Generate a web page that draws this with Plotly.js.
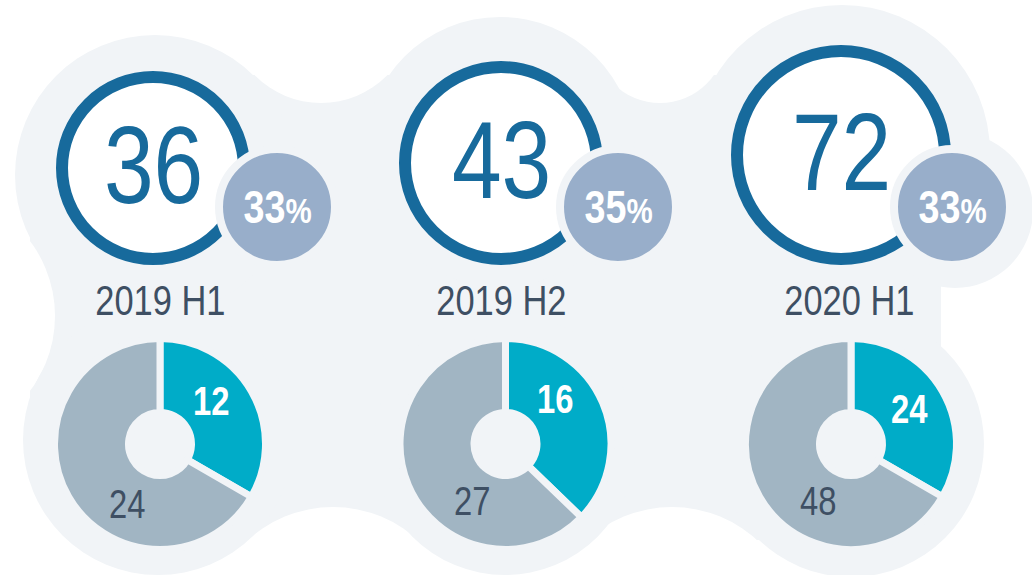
<!DOCTYPE html>
<html><head><meta charset="utf-8">
<script src="https://cdn.plot.ly/plotly-3.0.1.min.js"></script>
<style>html,body{margin:0;padding:0;background:#fff;}#chart{width:1032px;height:575px;}</style>
</head><body><div id="chart"></div>
<script>
// ---- data ----
const periods = ['2019 H1', '2019 H2', '2020 H1'];
const totals  = [36, 43, 72];
const shares  = [33, 35, 33];
const partA   = [12, 16, 24];   // teal slice
const partB   = [24, 27, 48];   // grey slice

// ---- style / layout constants ----
const W = 1032, H = 575;
const BG = '#f1f4f7', RING = '#176a9c', BUBBLE = '#98aeca', TEAL = '#00acc8', GREY = '#a1b5c3', INK = '#3e4f63';
const FONT = '"Liberation Sans Narrow","Arial Narrow","Liberation Sans",Arial,sans-serif';
const NARROW = 0.82;                       // horizontal squeeze to mimic a narrow face
const STEP = 345.5, X0 = 160;              // px of first category, px between categories
const ringOuter = [97, 102, 110];          // outer radius of the big rings (px)
const ringDx = [-7, -4.5, -10];
const ringBottom = 265, ringW = 12;
const bubbleDx = [117, 112.5, 101], bubbleY = 207, bubbleR = 54, halo = 8;
const labelY = 300, labelDx = [0, -4, -2];
const pieY = 444, pieR = 105.5, gap = 7;
const tealOff = [[51, -43], [50, -45], [58, -35]];
const greyOff = [[-33, 60], [-33, 57], [-33, 57]];

const idx = periods.map((_, i) => i);
const pxOf = i => X0 + i * STEP;

// ---- background blob ----
const shapes = [];
const pc = (cx, cy, r, col) => ({type: 'circle', xref: 'paper', yref: 'paper', layer: 'below',
  x0: (cx - r) / W, x1: (cx + r) / W, y0: 1 - (cy + r) / H, y1: 1 - (cy - r) / H,
  fillcolor: col, line: {width: 0}});
const pr = (xa, ya, xb, yb, col) => ({type: 'rect', xref: 'paper', yref: 'paper', layer: 'below',
  x0: xa / W, x1: xb / W, y0: 1 - yb / H, y1: 1 - ya / H, fillcolor: col, line: {width: 0}});
shapes.push(pr(155, 75, 941, 540, BG), pr(30, 175, 160, 440, BG));
[[321, 10, 93], [660, 37, 66], [-70, 316, 125], [333, 633, 126], [672, 633, 126]]
  .forEach(c => shapes.push(pc(c[0], c[1], c[2], '#ffffff')));
[[155, 175, 140], [500, 152, 135], [842, 153, 148], [955, 210, 78],
 [158, 440, 135], [505, 444, 131], [851, 444, 133]]
  .forEach(c => shapes.push(pc(c[0], c[1], c[2], BG)));

// ---- traces ----
const traces = [];
traces.push({
  type: 'scatter', mode: 'markers', hoverinfo: 'skip', cliponaxis: false,
  x: idx.map(i => i + ringDx[i] / STEP),
  y: idx.map(i => ringBottom - ringOuter[i]),
  marker: {symbol: 'circle', color: '#ffffff', opacity: 1, size: ringOuter.map(r => 2 * (r - ringW / 2)),
           line: {color: RING, width: ringW}}
});
traces.push({
  type: 'scatter', mode: 'markers', hoverinfo: 'skip', cliponaxis: false,
  x: idx.map(i => i + bubbleDx[i] / STEP),
  y: idx.map(() => bubbleY),
  marker: {symbol: 'circle', color: BUBBLE, opacity: 1, size: 2 * (bubbleR + halo / 2),
           line: {color: BG, width: halo}}
});
idx.forEach(i => {
  const cx = pxOf(i);
  traces.push({
    type: 'pie', values: [partA[i], partB[i]], labels: ['A', 'B'],
    sort: false, direction: 'clockwise', rotation: 0, hole: (35 - gap / 2) / pieR,
    textinfo: 'none', hoverinfo: 'skip', showlegend: false,
    marker: {colors: [TEAL, GREY], line: {color: BG, width: gap}},
    domain: {x: [(cx - pieR) / W, (cx + pieR) / W], y: [1 - (pieY + pieR) / H, 1 - (pieY - pieR) / H]}
  });
});

// ---- text ----
const ann = [];
idx.forEach(i => {
  ann.push({x: i + ringDx[i] / STEP, y: ringBottom - ringOuter[i] - 3, text: String(totals[i]),
    showarrow: false, font: {family: FONT, size: 109, color: RING}});
  ann.push({x: i + bubbleDx[i] / STEP, y: bubbleY, text: '<b>' + shares[i] + '<span style="font-size:36px">%</span></b>',
    showarrow: false, font: {family: FONT, size: 46, color: '#ffffff'}});
  ann.push({x: i + labelDx[i] / STEP, y: labelY, text: periods[i], showarrow: false,
    font: {family: FONT, size: 42, color: INK}});
  ann.push({x: i + tealOff[i][0] / STEP, y: pieY + tealOff[i][1], text: '<b>' + partA[i] + '</b>',
    showarrow: false, font: {family: FONT, size: 40, color: '#ffffff'}});
  ann.push({x: i + greyOff[i][0] / STEP, y: pieY + greyOff[i][1], text: String(partB[i]),
    showarrow: false, font: {family: FONT, size: 40, color: INK}});
});

const layout = {
  width: W, height: H, margin: {l: 0, r: 0, t: 0, b: 0},
  paper_bgcolor: '#ffffff', plot_bgcolor: 'rgba(0,0,0,0)', showlegend: false,
  xaxis: {range: [-X0 / STEP, (W - X0) / STEP], visible: false, fixedrange: true},
  yaxis: {range: [H, 0], visible: false, fixedrange: true},
  shapes: shapes, annotations: ann
};
Plotly.newPlot('chart', traces, layout, {displayModeBar: false, staticPlot: true}).then(gd => {
  gd.querySelectorAll('.annotation-text').forEach(t => {
    const bb = t.getBBox();
    const cx = bb.x + bb.width / 2;
    t.setAttribute('transform', 'translate(' + (cx * (1 - NARROW)) + ',0) scale(' + NARROW + ',1)');
  });
});
</script></body></html>
